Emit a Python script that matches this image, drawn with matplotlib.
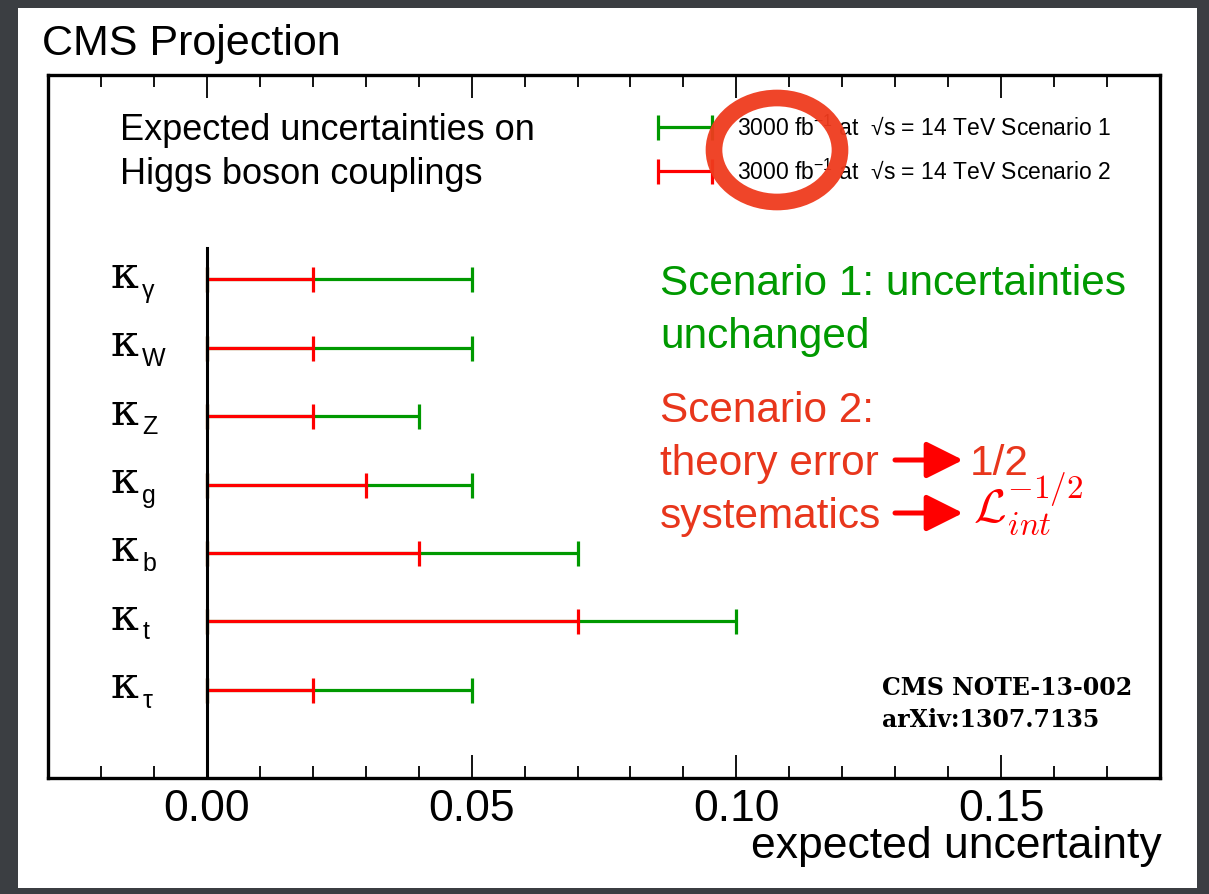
import matplotlib
matplotlib.use("Agg")
import matplotlib.pyplot as plt
from matplotlib.patches import Rectangle, Ellipse
from matplotlib.legend_handler import HandlerErrorbar
from matplotlib.container import ErrorbarContainer
import numpy as np

# couplings, top to bottom
subs = ["γ", "W", "Z", "g", "b", "t", "τ"]
scen1 = [0.05, 0.05, 0.04, 0.05, 0.07, 0.10, 0.05]
scen2 = [0.02, 0.02, 0.02, 0.03, 0.04, 0.07, 0.02]
leg_labels = ["3000 fb$\\mathregular{^{-1}}$ at  √s = 14 TeV Scenario 1",
              "3000 fb$\\mathregular{^{-1}}$ at  √s = 14 TeV Scenario 2"]

green = "#009900"
red = "#ff0000"
note_red = "#e8361c"

plt.rcParams["font.family"] = ["Liberation Sans", "DejaVu Sans"]

W, H = 1209, 894
fig = plt.figure(figsize=(W / 100, H / 100), dpi=100, facecolor="#3b3e42")

def px(x, y):
    return x / W, 1 - y / H

# white slide panel
x0, y0 = px(18, 888)
x1, y1 = px(1197, 8)
fig.patches.append(Rectangle((x0, y0), x1 - x0, y1 - y0, transform=fig.transFigure,
                             facecolor="white", edgecolor="none", zorder=-10))

ax = fig.add_axes([48 / W, 1 - 778 / H, (1160 - 48) / W, (778 - 75) / H])
ax.set_zorder(1)
ax.set_facecolor("white")

n = len(subs)
y = np.arange(n)[::-1]

e1 = ax.errorbar(np.zeros(n), y, xerr=[np.zeros(n), scen1], fmt="none", ecolor=green,
                 elinewidth=2.3, capsize=9, capthick=2.3, zorder=2, label=leg_labels[0])
e2 = ax.errorbar(np.zeros(n), y, xerr=[np.zeros(n), scen2], fmt="none", ecolor=red,
                 elinewidth=2.3, capsize=9, capthick=2.3, zorder=3, label=leg_labels[1])
ax.axvline(0, ymax=0.754, color="black", lw=2.2, zorder=4)

ax.set_xlim(-0.03, 0.18)
ax.set_ylim(-1.29, 8.99)
ax.set_yticks([])
ax.set_xticks([0.0, 0.05, 0.10, 0.15])
ax.set_xticklabels(["0.00", "0.05", "0.10", "0.15"])
ax.set_xticks(np.arange(-0.02, 0.18, 0.01), minor=True)
ax.tick_params(axis="x", which="both", direction="in", top=True, labelsize=32, pad=8)
ax.tick_params(axis="x", which="major", length=16.5, width=1.3)
ax.tick_params(axis="x", which="minor", length=8.6, width=1.3)
for s in ax.spines.values():
    s.set_linewidth(2.4)

# kappa labels with subscripts
for yi, sub in zip(y, subs):
    ax.annotate("κ", xy=(-0.0185, yi), xytext=(1.5, -6), textcoords="offset points",
                fontsize=32, family="DejaVu Serif", ha="left", va="baseline",
                annotation_clip=False)
    ax.annotate(sub, xy=(-0.0185, yi), xytext=(24, -13), textcoords="offset points",
                fontsize=18, ha="left", va="baseline", annotation_clip=False)

leg = ax.legend([e1, e2], leg_labels, loc="upper left", bbox_to_anchor=px(658, 116),
                bbox_transform=fig.transFigure, frameon=False, fontsize=16.5,
                handlelength=2.36, handletextpad=1.1, labelspacing=0.86,
                borderpad=0, borderaxespad=0,
                handler_map={ErrorbarContainer: HandlerErrorbar(xerr_size=1.18)})

# arrows of the scenario 2 note
for ya in (460, 513):
    ax.annotate("", xy=px(963, ya), xytext=px(895, ya), xycoords="figure fraction",
                textcoords="figure fraction", annotation_clip=False,
                arrowprops=dict(arrowstyle="-|>,head_width=0.45,head_length=0.9",
                                color=red, lw=3.6, mutation_scale=25, shrinkA=0, shrinkB=0))

# hand-drawn circle on the legend
cx, cy = px(777, 150)
fig.patches.append(Ellipse((cx, cy), 126 / W, 104 / H, transform=fig.transFigure,
                           fill=False, edgecolor="#ef3b1d", lw=12, alpha=0.95, zorder=5))

fig.text(*px(42, 55), "CMS Projection", fontsize=31, va="baseline")
fig.text(*px(120, 140), "Expected uncertainties on", fontsize=26, va="baseline")
fig.text(*px(120, 184), "Higgs boson couplings", fontsize=26, va="baseline")

fig.text(*px(660, 295), "Scenario 1: uncertainties", fontsize=30.5, color=green, va="baseline")
fig.text(*px(660, 348), "unchanged", fontsize=30.5, color=green, va="baseline")
fig.text(*px(660, 422), "Scenario 2:", fontsize=30.5, color=note_red, va="baseline")
fig.text(*px(660, 475), "theory error", fontsize=30.5, color=note_red, va="baseline")
fig.text(*px(660, 528), "systematics", fontsize=30.5, color=note_red, va="baseline")
fig.text(*px(970, 475), "1/2", fontsize=30.5, color=note_red, va="baseline")
fig.text(*px(973, 523), r"$\mathcal{L}_{int}^{-1/2}$", fontsize=34, color=red,
         va="baseline", math_fontfamily="cm")

fig.text(*px(882, 695), "CMS NOTE-13-002", fontsize=17, family="DejaVu Serif",
         weight="bold", va="baseline")
fig.text(*px(882, 727), "arXiv:1307.7135", fontsize=17, family="DejaVu Serif",
         weight="bold", va="baseline")

fig.text(*px(1162, 858), "expected uncertainty", fontsize=32, ha="right", va="baseline")

fig.savefig("out.png", dpi=100, facecolor=fig.get_facecolor())
